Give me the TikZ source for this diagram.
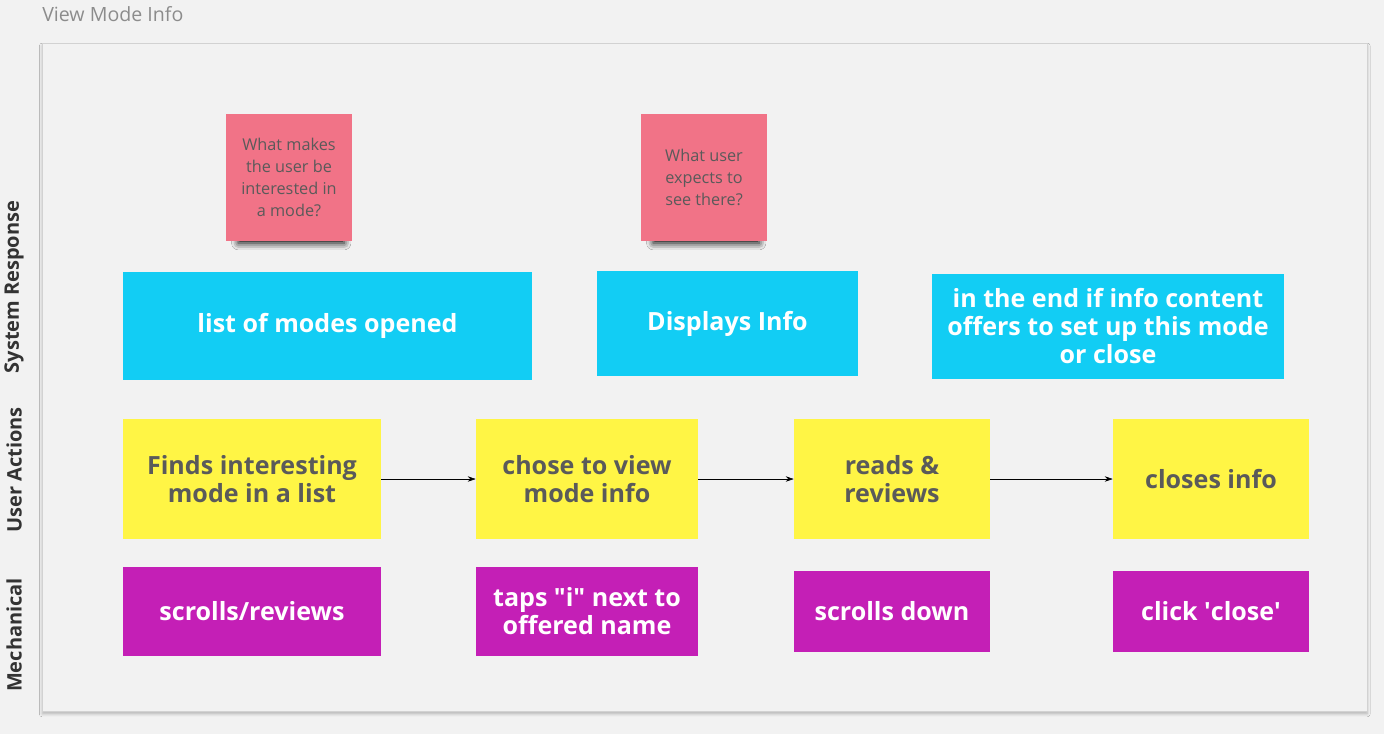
\documentclass[tikz,border=0pt]{standalone}
\usepackage{fontspec}
\setmainfont{Open Sans}
\usetikzlibrary{arrows.meta}
\usetikzlibrary{shadows.blur}

\definecolor{bgray}{HTML}{F2F2F2}
\definecolor{framegray}{HTML}{D2D2D2}
\definecolor{sysblue}{HTML}{12CDF4}
\definecolor{actyellow}{HTML}{FFF545}
\definecolor{mechpurple}{HTML}{C41FB6}
\definecolor{notepink}{HTML}{F17387}
\definecolor{textgray}{HTML}{5A5A5A}

\tikzset{
  sysbox/.style={fill=sysblue, text=white, font=\bfseries\fontsize{18.8}{21}\selectfont, align=center, inner sep=0pt},
  actbox/.style={fill=actyellow, text=textgray, font=\bfseries\fontsize{18.8}{21}\selectfont, align=center, inner sep=0pt},
  mechbox/.style={fill=mechpurple, text=white, font=\bfseries\fontsize{18.8}{21}\selectfont, align=center, inner sep=0pt},
  note/.style={fill=notepink, text=textgray, font=\fontsize{12.2}{16.5}\selectfont, align=center, inner sep=0pt,
    minimum width=94.5pt, minimum height=95.25pt,
    blur shadow={shadow xshift=2pt, shadow yshift=-11pt, shadow scale=0.84, shadow opacity=100, shadow blur radius=6pt}},
  lane/.style={rotate=90, text=black!80, font=\bfseries\fontsize{15}{18}\selectfont},
  flow/.style={-{Stealth[length=6pt,width=4pt]}, thin, black}
}

\begin{document}
\begin{tikzpicture}[x=0.75pt, y=-0.75pt]
  \useasboundingbox[fill=bgray] (0,0) rectangle (1384,734);

  % board
  \node[draw=framegray, fill=bgray, anchor=north west, minimum width=993.75pt, minimum height=501pt, inner sep=0pt,
    blur shadow={shadow xshift=0pt, shadow yshift=-2pt, shadow opacity=25}] (board) at (42,43) {};
  \node[anchor=west, inner sep=0pt, text=black!45, font=\fontsize{14.7}{17}\selectfont] (title) at (42,14) {View Mode Info};

  % lane labels
  \node[lane] (lsys) at (14,287) {System Response};
  \node[lane] (luser) at (14,470) {User Actions};
  \node[lane] (lmech) at (14,635) {Mechanical};

  % questions
  \node[note] (q1) at (289,177.5) {What makes\\the user be\\interested in\\a mode?};
  \node[note] (q2) at (704,177.5) {What user\\expects to\\see there?};

  % system response
  \node[sysbox, minimum width=306.75pt, minimum height=81pt] (s1) at (327.5,326) {list of modes opened};
  \node[sysbox, minimum width=195.75pt, minimum height=78.75pt] (s2) at (727.5,323.5) {Displays Info};
  \node[sysbox, minimum width=264pt, minimum height=78.75pt] (s3) at (1108,326.5) {in the end if info content\\offers to set up this mode\\or close};

  % user actions
  \node[actbox, minimum width=193.5pt, minimum height=90pt] (a1) at (252,479) {Finds interesting\\mode in a list};
  \node[actbox, minimum width=166.5pt, minimum height=90pt] (a2) at (587,479) {chose to view\\mode info};
  \node[actbox, minimum width=147pt, minimum height=90pt] (a3) at (892,479) {reads \&\\reviews};
  \node[actbox, minimum width=147pt, minimum height=90pt] (a4) at (1211,479) {closes info};

  % mechanical
  \node[mechbox, minimum width=193.5pt, minimum height=66.75pt] (m1) at (252,611.5) {scrolls/reviews};
  \node[mechbox, minimum width=166.5pt, minimum height=66.75pt] (m2) at (587,611.5) {taps \textquotedbl i\textquotedbl{} next to\\offered name};
  \node[mechbox, minimum width=147pt, minimum height=60.75pt] (m3) at (892,611.5) {scrolls down};
  \node[mechbox, minimum width=147pt, minimum height=60.75pt] (m4) at (1211,611.5) {click \textquotesingle close\textquotesingle};

  \draw[flow] (a1) -- (a2);
  \draw[flow] (a2) -- (a3);
  \draw[flow] (a3) -- (a4);
\end{tikzpicture}
\end{document}
